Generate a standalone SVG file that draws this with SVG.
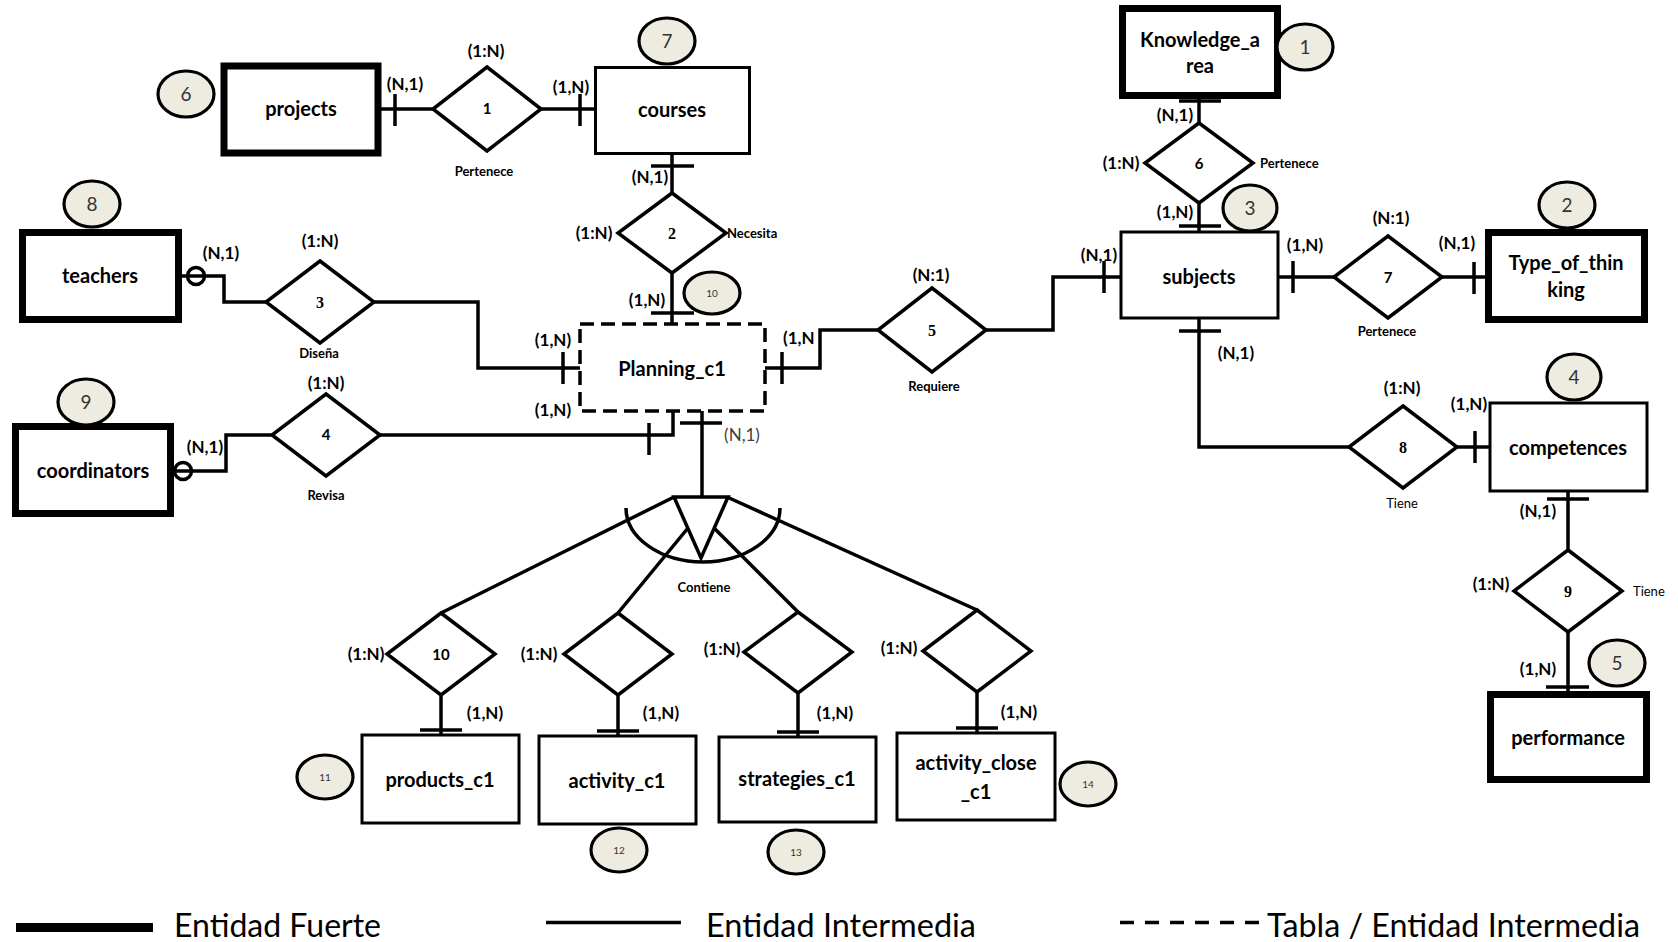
<svg xmlns="http://www.w3.org/2000/svg" width="1678" height="942" viewBox="0 0 1678 942">
<style>
  .bg{fill:#fff}
  .strong{fill:#fff;stroke:#000;stroke-width:7}
  .weak{fill:#fff;stroke:#000;stroke-width:3}
  .table{fill:#fff;stroke:#000;stroke-width:3.5;stroke-dasharray:14 7}
  .rel{fill:#fff;stroke:#000;stroke-width:3.5;stroke-linejoin:miter}
  .conn{fill:none;stroke:#000;stroke-width:3.5}
  .tick{fill:none;stroke:#000;stroke-width:3.5}
  .opt{fill:#fff;stroke:#000;stroke-width:3.5}
  .num{fill:#eeece1;stroke:#000;stroke-width:3.2}
  text{font-family:Lato,"Liberation Sans",sans-serif;fill:#000}
  .lbl{font-size:20px;font-weight:bold;text-anchor:middle}
  .card{font-size:17px;font-weight:bold;text-anchor:middle}
  .rname{font-size:13px;font-weight:bold;text-anchor:middle}
  .rnameL{font-size:13px;font-weight:bold;text-anchor:start}
  .rreg{font-size:13px;text-anchor:middle}
  .rregL{font-size:13px;text-anchor:start}
  .dnum{font-size:15px;font-weight:bold;text-anchor:middle}
  .dnumS{font-family:"Liberation Serif",serif;font-size:16px;font-weight:bold;text-anchor:middle}
  .enum{font-size:19px;text-anchor:middle;fill:#333}
  .enumS{font-size:10px;text-anchor:middle;fill:#333}
  .leg{font-size:32px}
</style>
<rect class="bg" x="0" y="0" width="1678" height="942"/>

<g id="connectors">
  <!-- projects - 1 - courses -->
  <path class="conn" d="M381 109 H433"/>
  <path class="tick" d="M395 94 V126"/>
  <path class="conn" d="M541 109 H595"/>
  <path class="tick" d="M580 94 V126"/>
  <!-- courses - 2 - planning -->
  <path class="conn" d="M672 154 V193"/>
  <path class="tick" d="M651 166 H694"/>
  <path class="conn" d="M672 273 V324"/>
  <path class="tick" d="M651 313 H694"/>
  <!-- teachers - 3 - planning -->
  <path class="conn" d="M182 276 H224 V302 H266"/>
  <circle class="opt" cx="196" cy="276" r="8.5"/>
  <path class="conn" d="M188 276 H204"/>
  <path class="conn" d="M374 302 H478 V368 H580"/>
  <path class="tick" d="M563 352 V384"/>
  <!-- coordinators - 4 - planning -->
  <path class="conn" d="M174 471 H226 V435 H272"/>
  <circle class="opt" cx="183" cy="471" r="8.5"/>
  <path class="conn" d="M175 471 H191"/>
  <path class="conn" d="M380 435 H673 V411"/>
  <path class="tick" d="M649 423 V455"/>
  <!-- planning - 5 - subjects -->
  <path class="conn" d="M765 368 H820 V330 H878"/>
  <path class="tick" d="M782 352 V384"/>
  <path class="conn" d="M986 330 H1053 V277 H1121"/>
  <path class="tick" d="M1104 261 V293"/>
  <!-- knowledge - 6 - subjects -->
  <path class="conn" d="M1199 99 V123"/>
  <path class="tick" d="M1179 101 H1221"/>
  <path class="conn" d="M1199 203 V232"/>
  <path class="tick" d="M1179 226 H1221"/>
  <!-- subjects - 7 - type -->
  <path class="conn" d="M1278 277 H1334"/>
  <path class="tick" d="M1293 261 V293"/>
  <path class="conn" d="M1442 277 H1485"/>
  <path class="tick" d="M1474 262 V294"/>
  <!-- subjects - 8 - competences -->
  <path class="conn" d="M1199 318 V447 H1349"/>
  <path class="tick" d="M1179 331 H1221"/>
  <path class="conn" d="M1457 447 H1490"/>
  <path class="tick" d="M1475 431 V463"/>
  <!-- competences - 9 - performance -->
  <path class="conn" d="M1568 491 V550"/>
  <path class="tick" d="M1547 499 H1589"/>
  <path class="conn" d="M1568 632 V691"/>
  <path class="tick" d="M1546 687 H1589"/>
  <!-- planning - contiene -->
  <path class="conn" d="M702 411 V497"/>
  <path class="tick" d="M680 423 H722"/>
  <path class="conn" d="M674 497 L441 613"/>
  <path class="conn" d="M688 528 L618 613"/>
  <path class="conn" d="M714 528 L798 612"/>
  <path class="conn" d="M727 497 L977 610"/>
  <!-- diamonds to sub-entities -->
  <path class="conn" d="M441 695 V735"/>
  <path class="tick" d="M420 730 H462"/>
  <path class="conn" d="M618 695 V736"/>
  <path class="tick" d="M597 731 H639"/>
  <path class="conn" d="M798 693 V737"/>
  <path class="tick" d="M777 732 H819"/>
  <path class="conn" d="M977 692 V733"/>
  <path class="tick" d="M956 728 H998"/>
</g>

<g id="contiene">
  <path class="conn" d="M626 508 A77 54 0 0 0 780 508"/>
  <polygon class="rel" points="674,497 728,497 701,558"/>
  <text class="rname" x="704" y="592">Contiene</text>
</g>

<!-- entities -->
<g id="projects"><rect class="strong" x="224" y="66" width="154" height="87"/><text class="lbl" x="301" y="116">projects</text></g>
<g id="courses"><rect class="weak" x="595.5" y="67.5" width="154" height="86"/><text class="lbl" x="672" y="117">courses</text></g>
<g id="teachers"><rect class="strong" x="22.5" y="232.5" width="156" height="87"/><text class="lbl" x="100" y="283">teachers</text></g>
<g id="coordinators"><rect class="strong" x="15.5" y="426.5" width="155" height="87"/><text class="lbl" x="93" y="478">coordinators</text></g>
<g id="planning_c1"><rect class="table" x="580" y="324" width="185" height="87"/><text class="lbl" x="672" y="376">Planning_c1</text></g>
<g id="knowledge_area"><rect class="strong" x="1122.5" y="8.5" width="155" height="87"/><text class="lbl" x="1200" y="47">Knowledge_a</text><text class="lbl" x="1200" y="73">rea</text></g>
<g id="subjects"><rect class="weak" x="1121" y="232" width="157" height="86"/><text class="lbl" x="1199" y="284">subjects</text></g>
<g id="type_of_thinking"><rect class="strong" x="1488.5" y="232.5" width="156" height="87"/><text class="lbl" x="1566" y="270">Type_of_thin</text><text class="lbl" x="1566" y="297">king</text></g>
<g id="competences"><rect class="weak" x="1490" y="403" width="157" height="88"/><text class="lbl" x="1568" y="455">competences</text></g>
<g id="performance"><rect class="strong" x="1490.5" y="694.5" width="156" height="85"/><text class="lbl" x="1568" y="745">performance</text></g>
<g id="products_c1"><rect class="weak" x="362" y="735" width="157" height="88"/><text class="lbl" x="440" y="787">products_c1</text></g>
<g id="activity_c1"><rect class="weak" x="539" y="736" width="157" height="88"/><text class="lbl" x="617" y="788">activity_c1</text></g>
<g id="strategies_c1"><rect class="weak" x="719" y="737" width="157" height="85"/><text class="lbl" x="797" y="786">strategies_c1</text></g>
<g id="activity_close_c1"><rect class="weak" x="897" y="733" width="158" height="87"/><text class="lbl" x="976" y="770">activity_close</text><text class="lbl" x="976" y="799">_c1</text></g>

<!-- relationships -->
<g id="rel1"><polygon class="rel" points="487,67 541,109 487,151 433,109"/><text class="dnum" x="487" y="114">1</text>
  <text class="card" x="486" y="57">(1:N)</text><text class="rname" x="484" y="176">Pertenece</text></g>
<g id="rel2"><polygon class="rel" points="672,193 726,233 672,273 618,233"/><text class="dnumS" x="672" y="239">2</text>
  <text class="card" x="594" y="239">(1:N)</text><text class="rnameL" x="727" y="238">Necesita</text></g>
<g id="rel3"><polygon class="rel" points="320,261 374,302 320,343 266,302"/><text class="dnumS" x="320" y="308">3</text>
  <text class="card" x="320" y="247">(1:N)</text><text class="rname" x="319" y="358">Diseña</text></g>
<g id="rel4"><polygon class="rel" points="326,394 380,435 326,476 272,435"/><text class="dnum" x="326" y="440">4</text>
  <text class="card" x="326" y="389">(1:N)</text><text class="rname" x="326" y="500">Revisa</text></g>
<g id="rel5"><polygon class="rel" points="932,288 986,330 932,372 878,330"/><text class="dnumS" x="932" y="336">5</text>
  <text class="card" x="931" y="281">(N:1)</text><text class="rname" x="934" y="391">Requiere</text></g>
<g id="rel6"><polygon class="rel" points="1199,123 1253,163 1199,203 1145,163"/><text class="dnum" x="1199" y="169">6</text>
  <text class="card" x="1121" y="169">(1:N)</text><text class="rnameL" x="1260" y="168">Pertenece</text></g>
<g id="rel7"><polygon class="rel" points="1388,236 1442,277 1388,318 1334,277"/><text class="dnum" x="1388" y="283">7</text>
  <text class="card" x="1391" y="224">(N:1)</text><text class="rname" x="1387" y="336">Pertenece</text></g>
<g id="rel8"><polygon class="rel" points="1403,406 1457,447 1403,488 1349,447"/><text class="dnumS" x="1403" y="453">8</text>
  <text class="card" x="1402" y="394">(1:N)</text><text class="rreg" x="1402" y="508">Tiene</text></g>
<g id="rel9"><polygon class="rel" points="1568,550 1622,591 1568,632 1514,591"/><text class="dnumS" x="1568" y="597">9</text>
  <text class="card" x="1491" y="590">(1:N)</text><text class="rregL" x="1633" y="596">Tiene</text></g>
<g id="rel10"><polygon class="rel" points="441,613 495,654 441,695 387,654"/><text class="dnum" x="441" y="660">10</text>
  <text class="card" x="366" y="660">(1:N)</text></g>
<g id="rel11"><polygon class="rel" points="618,613 672,654 618,695 564,654"/>
  <text class="card" x="539" y="660">(1:N)</text></g>
<g id="rel12"><polygon class="rel" points="798,612 852,652 798,693 744,652"/>
  <text class="card" x="722" y="655">(1:N)</text></g>
<g id="rel13"><polygon class="rel" points="977,610 1031,651 977,692 923,651"/>
  <text class="card" x="899" y="654">(1:N)</text></g>

<!-- cardinality labels on connectors -->
<g id="cardinalities">
  <text class="card" x="405" y="90">(N,1)</text>
  <text class="card" x="571" y="93">(1,N)</text>
  <text class="card" x="650" y="183">(N,1)</text>
  <text class="card" x="647" y="306">(1,N)</text>
  <text class="card" x="221" y="259">(N,1)</text>
  <text class="card" x="205" y="453">(N,1)</text>
  <text class="card" x="553" y="346">(1,N)</text>
  <text class="card" x="553" y="416">(1,N)</text>
  <text class="card" x="783" y="344" style="text-anchor:start">(1,N</text>
  <text class="card" x="1099" y="261">(N,1)</text>
  <text class="card" x="1175" y="121">(N,1)</text>
  <text class="card" x="1175" y="218">(1,N)</text>
  <text class="card" x="1305" y="251">(1,N)</text>
  <text class="card" x="1457" y="249">(N,1)</text>
  <text class="card" x="1236" y="359">(N,1)</text>
  <text class="card" x="1469" y="410">(1,N)</text>
  <text class="card" x="1538" y="517">(N,1)</text>
  <text class="card" x="1538" y="675">(1,N)</text>
  <text x="742" y="441" style="font-size:17px;text-anchor:middle;fill:#404040">(N,1)</text>
  <text class="card" x="485" y="719">(1,N)</text>
  <text class="card" x="661" y="719">(1,N)</text>
  <text class="card" x="835" y="719">(1,N)</text>
  <text class="card" x="1019" y="718">(1,N)</text>
</g>

<!-- numbered ellipses -->
<g id="n1"><ellipse class="num" cx="1305" cy="47" rx="28" ry="23"/><text class="enum" x="1305" y="54">1</text></g>
<g id="n2"><ellipse class="num" cx="1567" cy="205" rx="28" ry="23"/><text class="enum" x="1567" y="212">2</text></g>
<g id="n3"><ellipse class="num" cx="1250" cy="208" rx="27" ry="23"/><text class="enum" x="1250" y="215">3</text></g>
<g id="n4"><ellipse class="num" cx="1574" cy="377" rx="27" ry="23"/><text class="enum" x="1574" y="384">4</text></g>
<g id="n5"><ellipse class="num" cx="1617" cy="663" rx="28" ry="23"/><text class="enum" x="1617" y="670">5</text></g>
<g id="n6"><ellipse class="num" cx="186" cy="94" rx="28" ry="23"/><text class="enum" x="186" y="101">6</text></g>
<g id="n7"><ellipse class="num" cx="667" cy="41" rx="28" ry="23"/><text class="enum" x="667" y="48">7</text></g>
<g id="n8"><ellipse class="num" cx="92" cy="204" rx="28" ry="23"/><text class="enum" x="92" y="211">8</text></g>
<g id="n9"><ellipse class="num" cx="86" cy="402" rx="28" ry="23"/><text class="enum" x="86" y="409">9</text></g>
<g id="n10"><ellipse class="num" cx="712" cy="293" rx="28" ry="21"/><text class="enumS" x="712" y="297">10</text></g>
<g id="n11"><ellipse class="num" cx="325" cy="777" rx="28" ry="22"/><text class="enumS" x="325" y="781">11</text></g>
<g id="n12"><ellipse class="num" cx="619" cy="850" rx="28" ry="22"/><text class="enumS" x="619" y="854">12</text></g>
<g id="n13"><ellipse class="num" cx="796" cy="852" rx="28" ry="22"/><text class="enumS" x="796" y="856">13</text></g>
<g id="n14"><ellipse class="num" cx="1088" cy="784" rx="28" ry="22"/><text class="enumS" x="1088" y="788">14</text></g>

<!-- legend -->
<g id="legend">
  <rect x="16" y="923" width="137" height="9" fill="#000"/>
  <text class="leg" x="174" y="937" textLength="207" lengthAdjust="spacingAndGlyphs">Entidad Fuerte</text>
  <path d="M546 922.5 H681" stroke="#000" stroke-width="3.5"/>
  <text class="leg" x="706" y="937" textLength="270" lengthAdjust="spacingAndGlyphs">Entidad Intermedia</text>
  <path d="M1120 922.5 H1260" stroke="#000" stroke-width="3.5" stroke-dasharray="14 11"/>
  <text class="leg" x="1267" y="937" textLength="373" lengthAdjust="spacingAndGlyphs">Tabla / Entidad Intermedia</text>
</g>
</svg>
